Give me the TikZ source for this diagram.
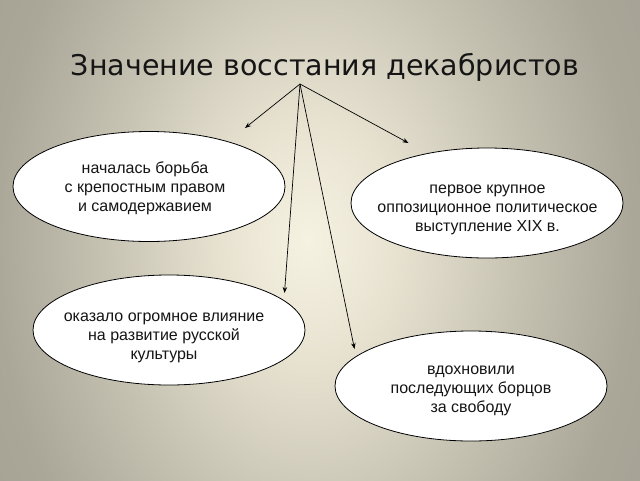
\documentclass[tikz,border=0pt]{standalone}
\usepackage{fontspec}
\setmainfont{Liberation Sans}
\newfontfamily\titlefont{DejaVu Sans}
\usetikzlibrary{shapes.geometric,arrows.meta}
\definecolor{bgA}{HTML}{F6F2E2}
\definecolor{bgB}{HTML}{E7E2D0}
\definecolor{bgC}{HTML}{C7C3B3}
\definecolor{bgD}{HTML}{AAA698}
\definecolor{bgE}{HTML}{948F83}
\definecolor{ink}{HTML}{151515}
\pgfdeclareradialshading{bgshade}{\pgfpoint{-1bp}{0bp}}{%
  color(0bp)=(bgA); color(7bp)=(bgB); color(16bp)=(bgC);
  color(25bp)=(bgD); color(50bp)=(bgE)}
\tikzset{
  bub/.style={ellipse, draw=black, line width=0.8pt, fill=white,
    minimum width=272pt, minimum height=110pt, inner sep=0pt},
  txt/.style={align=center, inner sep=0pt, text=ink,
    font=\fontsize{16}{19}\selectfont},
  arr/.style={draw=black, line width=0.7pt,
    -{Stealth[length=6pt,width=4.5pt]}}
}
\begin{document}
\begin{tikzpicture}[x=1pt,y=-1pt]
\useasboundingbox (0,0) rectangle (640,480);
\begin{scope}
\clip (0,0) rectangle (640,480);
\shade[shading=bgshade] (0,-200) rectangle (640,680);
\end{scope}
\node[anchor=base, inner sep=0pt, text=ink, font=\titlefont\fontsize{28.5}{34}\selectfont] (title) at (325,75) {Значение восстания декабристов};
\coordinate (apex) at (300,84);
\node[bub] (e1) at (149,186.5) {};
\node[bub] (e2) at (487,203) {};
\node[bub] (e3) at (169,330) {};
\node[bub] (e4) at (471,386) {};
\node[txt] (t1) at (145,188) {началась борьба\\с крепостным правом\\и самодержавием};
\node[txt] (t2) at (487.5,210) {первое крупное\\оппозиционное политическое\\выступление XIX в.};
\node[txt] (t3) at (164,338) {оказало огромное влияние\\на развитие русской\\культуры};
\node[txt] (t4) at (471,391) {вдохновили\\последующих борцов\\за свободу};
\coordinate (p1) at (245,128);
\coordinate (p2) at (408.5,143);
\coordinate (p3) at (284.5,293);
\coordinate (p4) at (354.5,349);
\draw[arr] (apex) -- (p1);
\draw[arr] (apex) -- (p2);
\draw[arr] (apex) -- (p3);
\draw[arr] (apex) -- (p4);
\end{tikzpicture}
\end{document}
